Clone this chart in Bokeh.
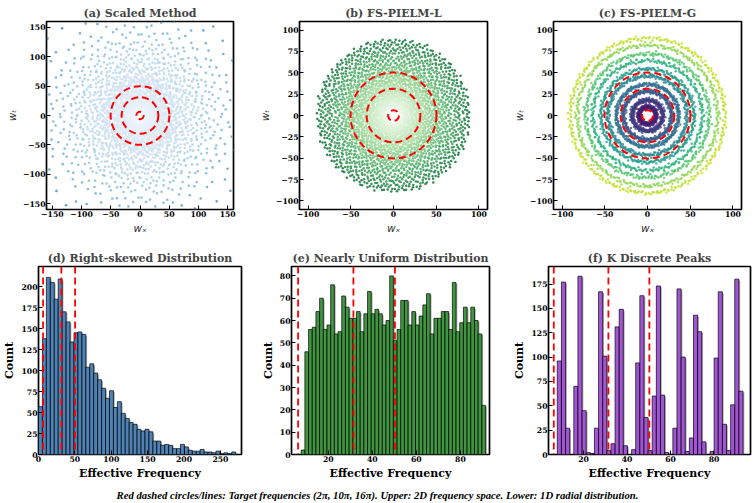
import math
import numpy as np
from bokeh.plotting import figure
from bokeh.models import Range1d, FixedTicker, Span, Label
from bokeh.layouts import column, row
from bokeh.palettes import Blues256, Greens256, Viridis256
from bokeh.embed import file_html
from bokeh.resources import INLINE

# ---------------- data ----------------
target_freqs = [2 * math.pi, 10 * math.pi, 16 * math.pi]

skewed_counts = [57, 138, 211, 205, 185, 209, 170, 158, 134, 145,
                 146, 143, 104, 108, 97, 89, 79, 67, 76, 56,
                 63, 49, 43, 38, 36, 30, 28, 30, 27, 16,
                 16, 11, 12, 11, 7, 7, 12, 9, 5, 4,
                 4, 6, 3, 3, 2, 4, 1, 2, 1, 3]
skewed_range = [0.0, 271.0]

uniform_counts = [2, 46, 56, 57, 64, 70, 56, 58, 76, 54,
                  55, 71, 66, 61, 61, 64, 55, 63, 73, 63,
                  65, 63, 58, 60, 80, 51, 56, 69, 69, 58,
                  64, 58, 62, 67, 72, 54, 61, 61, 64, 64,
                  56, 77, 55, 59, 66, 59, 66, 60, 54, 22]
uniform_range = [7.7, 91.4]

peaks_counts = [96, 177, 27, 0, 70, 183, 45, 2, 1, 27,
                167, 101, 4, 11, 131, 149, 9, 0, 5, 94,
                163, 38, 4, 60, 173, 61, 2, 0, 27, 170,
                100, 3, 17, 143, 126, 13, 0, 3, 99, 167,
                31, 4, 51, 180, 65]
peaks_range = [7.9, 93.36]

titles = ["(a) Scaled Method", "(b) FS-PIELM-L", "(c) FS-PIELM-G",
          "(d) Right-skewed Distribution", "(e) Nearly Uniform Distribution",
          "(f) K Discrete Peaks"]
caption = ("Red dashed circles/lines: Target frequencies (2\u03c0, 10\u03c0, 16\u03c0). "
           "Upper: 2D frequency space. Lower: 1D radial distribution.")

SERIF = "DejaVu Serif"
MINUS = "\u2212"


def bin_edges(counts, rng):
    return np.linspace(rng[0], rng[1], len(counts) + 1)


def van_der_corput(n, base):
    q, denom = 0.0, 1.0
    while n > 0:
        n, rem = divmod(n, base)
        denom *= base
        q += rem / denom
    return q


def radial_points(counts, rng):
    """Place each histogram count as a point in the plane (radius = effective frequency);
    inside each radial bin, angle and radius offset follow an even Halton(2,3) spread."""
    edges = bin_edges(counts, rng)
    w = edges[1] - edges[0]
    rs, th = [], []
    g = 1
    for i, c in enumerate(counts):
        for j in range(c):
            rs.append(edges[i] + van_der_corput(g, 3) * w)
            th.append(2 * math.pi * van_der_corput(g, 2))
            g += 1
    rs = np.array(rs)
    th = np.array(th)
    return rs * np.cos(th), rs * np.sin(th), rs


def style(p, xticks, yticks, xlabel, ylabel, math_labels):
    p.toolbar_location = None
    p.grid.visible = False
    p.outline_line_color = "black"
    p.outline_line_width = 1.7
    p.xaxis.ticker = FixedTicker(ticks=xticks)
    p.yaxis.ticker = FixedTicker(ticks=yticks)
    p.xaxis.major_label_overrides = {v: (MINUS + str(abs(v)) if v < 0 else str(v)) for v in xticks}
    p.yaxis.major_label_overrides = {v: (MINUS + str(abs(v)) if v < 0 else str(v)) for v in yticks}
    for ax in (p.xaxis[0], p.yaxis[0]):
        ax.axis_line_color = None
        ax.major_tick_in = 4
        ax.major_tick_out = 0
        ax.minor_tick_in = 0
        ax.minor_tick_out = 0
        ax.major_tick_line_color = "black"
        ax.major_label_text_font = SERIF
        ax.major_label_text_font_style = "bold"
        ax.major_label_text_font_size = "7.7px"
        ax.major_label_text_color = "black"
        ax.major_label_standoff = 1
        ax.axis_label_standoff = 2
        if math_labels:
            ax.axis_label_text_font = "DejaVu Sans"
            ax.axis_label_text_font_style = "italic"
            ax.axis_label_text_font_size = "10.5px"
            ax.axis_label_text_color = "#333333"
        else:
            ax.axis_label_text_font = SERIF
            ax.axis_label_text_font_style = "bold"
            ax.axis_label_text_font_size = "11px"
            ax.axis_label_text_color = "black"
    p.xaxis.axis_label = xlabel
    p.yaxis.axis_label = ylabel
    p.title.text_font = SERIF
    p.title.text_font_style = "bold"
    p.title.text_font_size = "11px"
    p.title.align = "center"
    p.title.standoff = 3


def scatter_fig(title, counts, rng, lim, ticks, yticks, palette_fn, alpha, size,
                bl, br, frame_w):
    p = figure(frame_width=frame_w, frame_height=188, x_range=Range1d(-lim[0], lim[0]),
               y_range=Range1d(-lim[1], lim[1]), output_backend="svg", toolbar_location=None,
               min_border_left=bl, min_border_right=br, min_border_top=21, min_border_bottom=26,
               title=title)
    x, y, r = radial_points(counts, rng)
    order = np.argsort(r)[::-1]
    colors = [palette_fn(v) for v in r[order]]
    p.scatter(x[order], y[order], size=size, fill_color=colors, line_color=None, fill_alpha=alpha)
    p.circle(x=[0, 0, 0], y=[0, 0, 0], radius=target_freqs, fill_color=None,
             line_color="red", line_width=2, line_dash="7 4")
    style(p, ticks, yticks, "w\u2093", "w\u209c", True)
    return p


def blues(r):
    t = min(r / 271.0, 1.0)
    return Blues256[int(round((1 - t) * 255))]


def greens(r):
    t = min(r / 100.0, 1.0)
    return Greens256[int(round((1 - t) * 255))]


def viridis(r):
    t = min(r / 100.0, 1.0)
    return Viridis256[int(round(t * 255))]


pa = scatter_fig(titles[0], skewed_counts, skewed_range, (160, 160),
                 [-150, -100, -50, 0, 50, 100, 150], [-150, -100, -50, 0, 50, 100, 150],
                 blues, 0.7, 2.6, 46, 20, 187)
pb = scatter_fig(titles[1], uniform_counts, uniform_range, (110, 110),
                 [-100, -50, 0, 50, 100], [-100, -75, -50, -25, 0, 25, 50, 75, 100],
                 greens, 0.8, 2.5, 46, 20, 188)
pc = scatter_fig(titles[2], peaks_counts, peaks_range, (110, 110),
                 [-100, -50, 0, 50, 100], [-100, -75, -50, -25, 0, 25, 50, 75, 100],
                 viridis, 0.8, 2.5, 46, 14, 188)


def hist_fig(title, counts, rng, xlim, ylim, xticks, yticks, color, bl, br, frame_w):
    p = figure(frame_width=frame_w, frame_height=188, x_range=Range1d(*xlim),
               y_range=Range1d(*ylim), output_backend="svg", toolbar_location=None,
               min_border_left=bl, min_border_right=br, min_border_top=30, min_border_bottom=27,
               title=title)
    edges = bin_edges(counts, rng)
    dx = 1.3 * (xlim[1] - xlim[0]) / frame_w
    dy = 1.3 * (ylim[1] - ylim[0]) / 188
    top = np.array(counts, dtype=float)
    p.quad(left=edges[:-1] + dx, right=edges[1:] + dx, top=np.maximum(top - dy, 0), bottom=0,
           fill_color="#8c8c8c", line_color=None, fill_alpha=0.7)
    p.quad(left=edges[:-1], right=edges[1:], top=top, bottom=0,
           fill_color=color, line_color="black", line_width=0.7, fill_alpha=0.95)
    for t in target_freqs:
        p.add_layout(Span(location=t, dimension="height", line_color="red",
                          line_dash="7 4", line_width=1.8))
    style(p, xticks, yticks, "Effective Frequency", "Count", False)
    return p


pd_ = hist_fig(titles[3], skewed_counts, skewed_range, (0, 279), (0, 224),
               [0, 50, 100, 150, 200, 250], [0, 25, 50, 75, 100, 125, 150, 175, 200],
               "#4a7fb4", 38, 13, 203)
pe = hist_fig(titles[4], uniform_counts, uniform_range, (3.3, 93.2), (0, 84.2),
              [20, 40, 60, 80], [0, 10, 20, 30, 40, 50, 60, 70, 80],
              "#3a933a", 37, 21, 198)
pf = hist_fig(titles[5], peaks_counts, peaks_range, (3.85, 96.8), (0, 193),
              [20, 40, 60, 80], [0, 25, 50, 75, 100, 125, 150, 175],
              "#a04fd5", 36, 7, 202)

cap = figure(width=755, height=23, x_range=Range1d(0, 755), y_range=Range1d(0, 23),
             output_backend="svg", toolbar_location=None, min_border=0)
cap.axis.visible = False
cap.grid.visible = False
cap.outline_line_color = None
cap.add_layout(Label(x=377, y=11, text=caption, text_align="center", text_baseline="middle",
                     text_font="Liberation Sans Narrow", text_font_style="bold italic",
                     text_font_size="10.7px", text_color="black"))

layout = column(row(pa, pb, pc), row(pd_, pe, pf), cap)
open("out.html", "w").write(file_html(layout, INLINE))
